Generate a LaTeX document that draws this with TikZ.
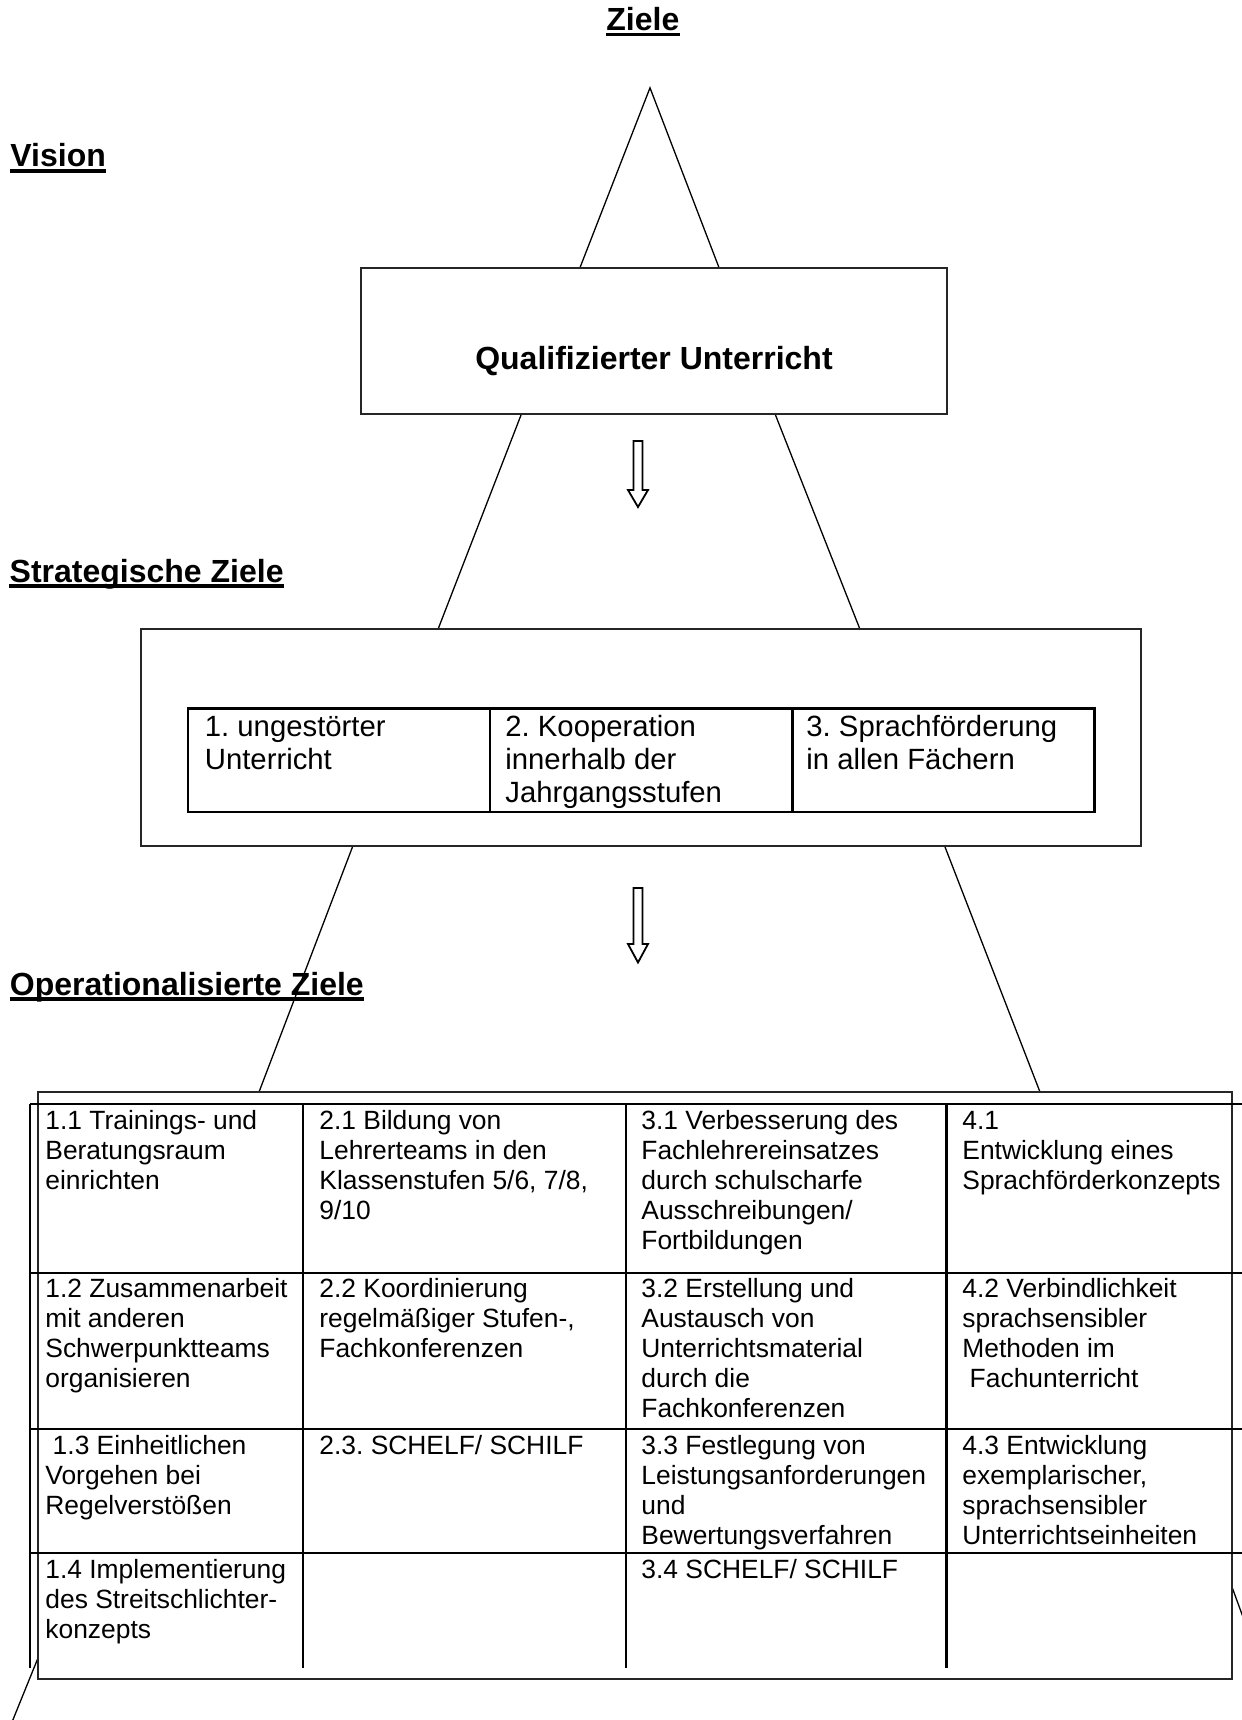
\documentclass[tikz,border=0pt]{standalone}
\usepackage{fontspec}
\setmainfont{Liberation Sans}
\frenchspacing
\newcommand{\mycell}[1]{\begin{tabular}[t]{@{}l@{}}#1\end{tabular}}
\begin{document}
\begin{tikzpicture}[x=0.5pt,y=-0.5pt,
  thinline/.style={line width=0.65pt},
  boxline/.style={line width=1pt, draw=black!85},
  tabline/.style={line width=1.35pt},
  head/.style={anchor=base west, inner sep=0pt, font=\fontsize{16}{19}\selectfont\bfseries},
  ulined/.style={line width=1.8pt},
  celltext/.style={anchor=base west, inner sep=0pt, font=\frenchspacing\fontsize{13.2}{15.1}\selectfont},
  strtext/.style={anchor=base west, inner sep=0pt, font=\frenchspacing\fontsize{14.65}{16.5}\selectfont},
  arrowshape/.style={line width=0.9pt, fill=white}
]
\useasboundingbox (0,0) rectangle (1242,1720);
\clip (0,0) rectangle (1242,1720);
\fill[white] (0,0) rectangle (1242,1720);

% ---------- headings ----------
\node[head] (zie) at (606,30.6) {Ziele};
\node[head] (vis) at (10,166.7) {Vision};
\node[head] (str) at (9.3,582) {Strategische Ziele};
\node[head] (ope) at (9.5,995) {Operationalisierte Ziele};
\foreach \n in {zie,vis,str,ope}
  \draw[ulined] ([yshift=-2pt]\n.base west) -- ([yshift=-2pt]\n.base east);

% ---------- coordinates of the pyramid lines ----------
\coordinate (apex) at (650,87.8);
\coordinate (a1) at (580,267.6);
\coordinate (a2) at (719,267.6);
\coordinate (b1) at (521.5,413.8);
\coordinate (b2) at (775,413.8);
\coordinate (b3) at (438,629.3);
\coordinate (b4) at (860,629.3);
\coordinate (c1) at (352.7,846.4);
\coordinate (c2) at (944.8,846.4);
\coordinate (c3) at (259,1092);
\coordinate (c4) at (1040,1092);
\coordinate (d1) at (38,1658);
\coordinate (d2) at (10,1727);
\coordinate (d3) at (1232,1587);
\coordinate (d4) at (1247,1628);

\draw[thinline] (a1) -- (apex) -- (a2);
\draw[thinline] (b1) -- (b3);
\draw[thinline] (b2) -- (b4);
\draw[thinline] (c1) -- (c3);
\draw[thinline] (c2) -- (c4);
\draw[thinline] (d1) -- (d2);
\draw[thinline] (d3) -- (d4);

% ---------- vision box ----------
\node[boxline, draw, rectangle, inner sep=0pt, minimum width=293.2pt, minimum height=73.1pt] (visbox) at (653.8,340.7) {};
\node[head, anchor=base] (qual) at (654,369.7) {Qualifizierter Unterricht};

% ---------- arrows ----------
\draw[arrowshape] (633.5,441) -- (642.5,441) -- (642.5,490) -- (648,490) -- (638,507) -- (628,490) -- (633.5,490) -- cycle;
\draw[arrowshape] (633.5,888) -- (642.5,888) -- (642.5,944) -- (648,944) -- (638,962.5) -- (628,944) -- (633.5,944) -- cycle;

% ---------- strategic box ----------
\node[boxline, draw, rectangle, inner sep=0pt, minimum width=500pt, minimum height=108.55pt] (strbox) at (641,737.85) {};
\draw[tabline] (188,708.6) rectangle (1094.5,812);
\draw[tabline] (490,708.6) -- (490,812);
\draw[tabline] (792.6,708.6) -- (792.6,812);
\node[strtext] (s1) at (204.5,736.4) {\mycell{1. ungestörter\\Unterricht}};
\node[strtext] (s2) at (505,736.4) {\mycell{2. Kooperation\\innerhalb der\\Jahrgangsstufen}};
\node[strtext] (s3) at (806,736.4) {\mycell{3. Sprachförderung\\in allen Fächern}};

% ---------- operational table ----------
\node[boxline, draw, rectangle, inner sep=0pt, minimum width=597pt, minimum height=293.5pt] (opbox) at (635,1385.5) {};
\foreach \yy in {1104,1273,1429,1553}
  \draw[tabline] (30,\yy) -- (1260,\yy);
\foreach \xx in {30,303,626,946.5}
  \draw[tabline] (\xx,1104) -- (\xx,1668);

% row 1
\node[celltext] (t11) at (45,1129) {\mycell{1.1 Trainings- und\\Beratungsraum\\einrichten}};
\node[celltext] (t21) at (319,1129) {\mycell{2.1 Bildung von\\Lehrerteams in den\\Klassenstufen 5/6, 7/8,\\9/10}};
\node[celltext] (t31) at (641,1129) {\mycell{3.1 Verbesserung des\\Fachlehrereinsatzes\\durch schulscharfe\\Ausschreibungen/\\Fortbildungen}};
\node[celltext] (t41) at (962,1129) {\mycell{4.1\\Entwicklung eines\\Sprachförderkonzepts}};
% row 2
\node[celltext] (t12) at (45,1297) {\mycell{1.2 Zusammenarbeit\\mit anderen\\Schwerpunktteams\\organisieren}};
\node[celltext] (t22) at (319,1297) {\mycell{2.2 Koordinierung\\regelmäßiger Stufen-,\\Fachkonferenzen}};
\node[celltext] (t32) at (641,1297) {\mycell{3.2 Erstellung und\\Austausch von\\Unterrichtsmaterial\\durch die\\Fachkonferenzen}};
\node[celltext] (t42) at (962,1297) {\mycell{4.2 Verbindlichkeit\\sprachsensibler\\Methoden im\\\hspace*{0.278em}Fachunterricht}};
% row 3
\node[celltext] (t13) at (45,1454) {\mycell{\hspace*{0.278em}1.3 Einheitlichen\\Vorgehen bei\\Regelverstößen}};
\node[celltext] (t23) at (319,1454) {\mycell{2.3. SCHELF/ SCHILF}};
\node[celltext] (t33) at (641,1454) {\mycell{3.3 Festlegung von\\Leistungsanforderungen\\und\\Bewertungsverfahren}};
\node[celltext] (t43) at (962,1454) {\mycell{4.3 Entwicklung\\exemplarischer,\\sprachsensibler\\Unterrichtseinheiten}};
% row 4
\node[celltext] (t14) at (45,1578) {\mycell{1.4 Implementierung\\des Streitschlichter-\\konzepts}};
\node[celltext] (t34) at (641,1578) {\mycell{3.4 SCHELF/ SCHILF}};
\end{tikzpicture}
\end{document}
